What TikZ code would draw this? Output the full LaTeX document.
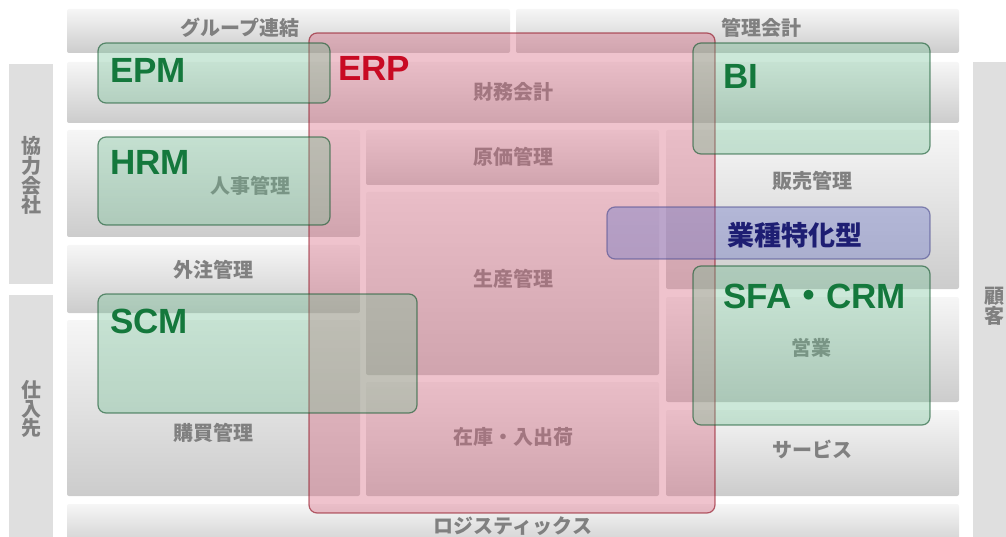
\documentclass[tikz,border=0pt]{standalone}
\usepackage{fontspec}
\setmainfont{Noto Sans CJK JP}
\newfontfamily\latinfont{Liberation Sans}

\definecolor{cinza}{RGB}{128,128,128}
\definecolor{vermelho}{RGB}{200,10,35}
\definecolor{verde}{RGB}{20,120,60}
\definecolor{azul}{RGB}{30,30,115}

\begin{document}
\begin{tikzpicture}[x=1pt,y=-1pt]

    % Área total (em pixels da figura original)
    \clip (0,0) rectangle (1006,537);

    % Estilos das faixas cinzas e dos sistemas sobrepostos
    \tikzstyle{faixa} = [
      rounded corners=2pt, top color=gray!7, middle color=gray!12,
      bottom color=gray!40
    ];
    \tikzstyle{lateral} = [fill=gray!25];
    \tikzstyle{rotulo} = [
      text=cinza, inner sep=0pt, font=\bfseries\fontsize{20}{19}\selectfont
    ];
    \tikzstyle{erp} = [
      rounded corners=8pt, line width=1.2pt, draw=vermelho!70!black,
      draw opacity=.6, fill={rgb,255:red,215;green,105;blue,130},
      fill opacity=.4
    ];
    \tikzstyle{verdebox} = [
      rounded corners=8pt, line width=1.2pt, draw=verde!70!black,
      draw opacity=.6, fill={rgb,255:red,110;green,190;blue,145},
      fill opacity=.35
    ];
    \tikzstyle{azulbox} = [
      rounded corners=8pt, line width=1.2pt, draw=azul!80,
      draw opacity=.6, fill={rgb,255:red,110;green,120;blue,200},
      fill opacity=.4
    ];
    \tikzstyle{sigla} = [
      anchor=west, inner sep=0pt,
      font=\latinfont\bfseries\fontsize{35}{35}\selectfont
    ];

    % Faixas laterais
    \fill[lateral] (9,64) rectangle (53,284);
    \fill[lateral] (9,295) rectangle (53,545);
    \fill[lateral] (973,62) rectangle (1010,545);

    % Lista das faixas cinzas: x1/y1/x2/y2
    \def\F{67/9/510/53, 516/9/959/53, 67/62/959/123,
      67/130/360/237, 366/130/659/185, 666/130/959/289,
      67/245/360/313, 366/192/659/375, 666/297/959/402,
      67/320/360/496, 366/382/659/496, 666/410/959/496,
      67/504/959/550}

    % Desenha cada faixa
    \foreach \xa/\ya/\xb/\yb in \F
    {
      \shade[faixa] (\xa,\ya) rectangle (\xb,\yb);
    }

    % Textos das faixas
    \node[rotulo] (grupo) at (240,28) {グループ連結};
    \node[rotulo] (kanri) at (761,28) {管理会計};
    \node[rotulo] (zaimu) at (513,92) {財務会計};
    \node[rotulo] (genka) at (513,157) {原価管理};
    \node[rotulo] (jinji) at (250,186) {人事管理};
    \node[rotulo] (hanbai) at (812,181) {販売管理};
    \node[rotulo] (gaichu) at (213,270) {外注管理};
    \node[rotulo] (seisan) at (513,279) {生産管理};
    \node[rotulo] (eigyo) at (811,348) {営業};
    \node[rotulo] (kobai) at (213,433) {購買管理};
    \node[rotulo] (zaiko) at (513,437) {在庫・入出荷};
    \node[rotulo] (service) at (812,449) {サービス};
    \node[rotulo] (logi) at (513,526) {ロジスティックス};

    % Textos verticais das laterais
    \node[rotulo, align=center] (kyoryoku) at (31,175) {協\\力\\会\\社};
    \node[rotulo, align=center] (shiire) at (31,409) {仕\\入\\先};
    \node[rotulo, align=center] (kokyaku) at (994,306) {顧\\客};

    % Sistemas sobrepostos
    \draw[erp] (309,33) rectangle (715,513);
    \draw[verdebox] (98,43) rectangle (330,103);
    \draw[verdebox] (98,137) rectangle (330,225);
    \draw[verdebox] (98,294) rectangle (417,413);
    \draw[verdebox] (693,43) rectangle (930,154);
    \draw[azulbox] (607,207) rectangle (930,259);
    \draw[verdebox] (693,266) rectangle (930,425);

    % Siglas
    \node[sigla, text=vermelho] (erpl) at (338,68) {ERP};
    \node[sigla, text=verde] (epm) at (110,70) {EPM};
    \node[sigla, text=verde] (hrm) at (110,162) {HRM};
    \node[sigla, text=verde] (scm) at (110,321) {SCM};
    \node[sigla, text=verde] (bi) at (723,76) {BI};
    \node[sigla, text=verde] (sfa) at (723,296) {SFA{\rmfamily ・}CRM};
    \node[inner sep=0pt, text=azul, font=\bfseries\fontsize{27}{27}\selectfont]
      (gyoshu) at (795,235) {業種特化型};

\end{tikzpicture}
\end{document}
